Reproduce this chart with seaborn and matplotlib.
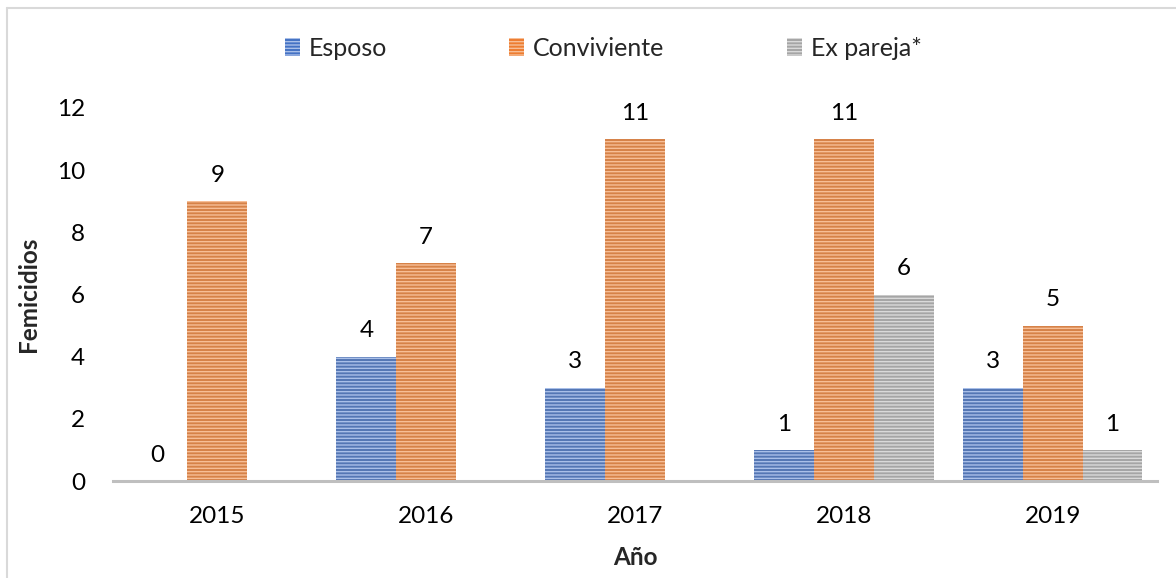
import matplotlib
matplotlib.use("Agg")
import matplotlib.pyplot as plt
import matplotlib.patches as mpatches
from matplotlib.lines import Line2D
import pandas as pd
import seaborn as sns

# Data
years = ["2015", "2016", "2017", "2018", "2019"]
esposo = [0, 4, 3, 1, 3]
conviviente = [9, 7, 11, 11, 5]
ex_pareja = [None, None, None, 6, 1]
series_names = ["Esposo", "Conviviente", "Ex pareja*"]
y_ticks = [0, 2, 4, 6, 8, 10, 12]

colors = ["#4472C4", "#ED7D31", "#A5A5A5"]
stripe_colors = ["#A9BFE8", "#F7BE96", "#D9D9D9"]

rows = []
for name, vals in zip(series_names, [esposo, conviviente, ex_pareja]):
    for yr, v in zip(years, vals):
        if v is not None:
            rows.append({"Año": yr, "Femicidios": v, "Relación": name})
df = pd.DataFrame(rows)

sns.set_style("white")
plt.rcParams["font.family"] = ["Lato", "DejaVu Sans"]
plt.rcParams["hatch.linewidth"] = 1.0

fig = plt.figure(figsize=(11.76, 5.78), dpi=100)
ax = fig.add_axes([113 / 1176, 97 / 578, 1044 / 1176, 373 / 578])

sns.barplot(data=df, x="Año", y="Femicidios", hue="Relación",
            order=years, hue_order=series_names,
            palette=colors, width=0.86, ax=ax, legend=False)

# striped fill like the original
for cont, stripe in zip(ax.containers, stripe_colors):
    for bar in cont:
        bar.set_hatch("-----")
        bar.set_edgecolor(stripe)
        bar.set_linewidth(0)
    ax.bar_label(cont, fmt="%g", padding=11, fontsize=17.5, color="black")

ax.set_ylim(0, 12)
ax.set_yticks(y_ticks)
ax.tick_params(axis="both", length=0, labelsize=17.5, colors="black")
ax.tick_params(axis="y", pad=20)
ax.tick_params(axis="x", pad=18)
for side in ["top", "right", "left"]:
    ax.spines[side].set_visible(False)
ax.spines["bottom"].set_color("#BFBFBF")
ax.spines["bottom"].set_linewidth(2.2)

ax.set_xlabel("Año", fontsize=17.5, fontweight="bold")
ax.set_ylabel("Femicidios", fontsize=17.5, fontweight="bold", labelpad=12)
ax.xaxis.set_label_coords(0.5, -0.175)

handles = [mpatches.Patch(facecolor=c, edgecolor=s, hatch="-----", lw=0, label=n)
           for c, s, n in zip(colors, stripe_colors, series_names)]
fig.legend(handles=handles, loc="center", bbox_to_anchor=(603 / 1176, 1 - 48 / 578),
           ncol=3, frameon=False, fontsize=18, handlelength=0.6, handleheight=0.75,
           handletextpad=0.35, columnspacing=4.9)

# light grey chart border (top and left edges visible)
fig.add_artist(Line2D([7 / 1176, 7 / 1176], [0, 1 - 8 / 578], color="#D9D9D9", lw=1.5))
fig.add_artist(Line2D([7 / 1176, 1], [1 - 8 / 578, 1 - 8 / 578], color="#D9D9D9", lw=1.5))

fig.savefig("out.png", dpi=100)
plt.close(fig)
